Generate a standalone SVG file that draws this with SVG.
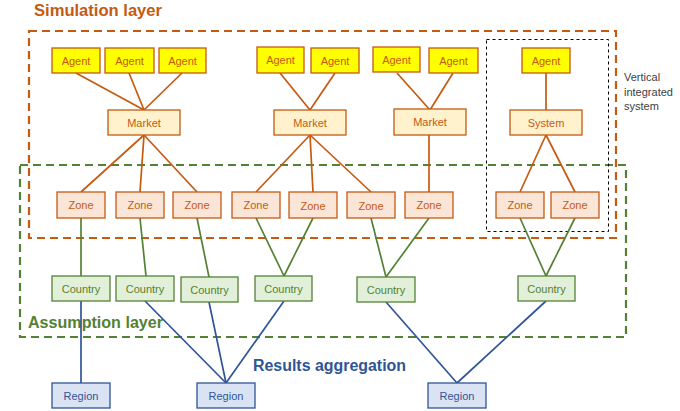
<svg xmlns="http://www.w3.org/2000/svg" width="680" height="411" viewBox="0 0 680 411">
<style>
text{font-family:"Liberation Sans",Arial,sans-serif;}
.lbl{font-size:11px;text-anchor:middle;dominant-baseline:central;}
.agent rect{fill:#FFFF00;stroke:#C55A11;stroke-width:1.3;}
.agent text{fill:#C55A11;}
.market rect{fill:#FFF2CC;stroke:#C55A11;stroke-width:1.3;}
.market text{fill:#C55A11;}
.zone rect{fill:#FBE5D6;stroke:#C55A11;stroke-width:1.3;}
.zone text{fill:#C55A11;}
.country rect{fill:#E2F0D9;stroke:#548235;stroke-width:1.3;}
.country text{fill:#548235;}
.region rect{fill:#DAE3F3;stroke:#2F5597;stroke-width:1.3;}
.region text{fill:#2F5597;}
.co{stroke:#C55A11;stroke-width:1.7;fill:none;}
.cg{stroke:#548235;stroke-width:1.7;fill:none;}
.cb{stroke:#2F5597;stroke-width:1.7;fill:none;}
.title{font-size:16px;font-weight:bold;}
</style>
<rect width="680" height="411" fill="#FFFFFF"/>
<g id="layers">
<rect x="29" y="31" width="587" height="207" fill="none" stroke="#C55A11" stroke-width="2.2" stroke-dasharray="8,5"/>
<rect x="20" y="165" width="606" height="172" fill="none" stroke="#548235" stroke-width="2.2" stroke-dasharray="8,5"/>
<rect x="486.5" y="39.5" width="122" height="192" fill="none" stroke="#000000" stroke-width="1" stroke-dasharray="3,3"/>
<text x="34" y="16" class="title" fill="#C55A11" textLength="128" lengthAdjust="spacingAndGlyphs">Simulation layer</text>
<text x="28" y="328" class="title" fill="#548235" textLength="135" lengthAdjust="spacingAndGlyphs">Assumption layer</text>
<text x="253" y="371" class="title" fill="#2F5597" textLength="153" lengthAdjust="spacingAndGlyphs">Results aggregation</text>
<text x="624" y="81" font-size="11" fill="#404040">Vertical</text>
<text x="624" y="96" font-size="11" fill="#404040">integrated</text>
<text x="624" y="110" font-size="11" fill="#404040">system</text>
</g>
<g id="connectors">
<line class="co" x1="76" y1="73" x2="144" y2="110"/>
<line class="co" x1="129" y1="73" x2="144" y2="110"/>
<line class="co" x1="182" y1="73" x2="144" y2="110"/>
<line class="co" x1="280" y1="73" x2="310" y2="110"/>
<line class="co" x1="335" y1="73" x2="310" y2="110"/>
<line class="co" x1="397" y1="73" x2="430" y2="110"/>
<line class="co" x1="453" y1="73" x2="430" y2="110"/>
<line class="co" x1="546" y1="73" x2="546" y2="110"/>
<line class="co" x1="144" y1="135" x2="81" y2="192"/>
<line class="co" x1="144" y1="135" x2="140" y2="192"/>
<line class="co" x1="144" y1="135" x2="197" y2="192"/>
<line class="co" x1="310" y1="135" x2="256" y2="192"/>
<line class="co" x1="310" y1="135" x2="313" y2="192"/>
<line class="co" x1="310" y1="135" x2="371" y2="192"/>
<line class="co" x1="429" y1="135" x2="429" y2="192"/>
<line class="co" x1="546" y1="135" x2="520" y2="192"/>
<line class="co" x1="546" y1="135" x2="575" y2="192"/>
<line class="cg" x1="81" y1="218" x2="81" y2="276"/>
<line class="cg" x1="140" y1="218" x2="146" y2="276"/>
<line class="cg" x1="197" y1="218" x2="209" y2="277"/>
<line class="cg" x1="256" y1="218" x2="284" y2="276"/>
<line class="cg" x1="313" y1="218" x2="284" y2="276"/>
<line class="cg" x1="371" y1="218" x2="386" y2="277"/>
<line class="cg" x1="429" y1="218" x2="386" y2="277"/>
<line class="cg" x1="520" y1="218" x2="546" y2="276"/>
<line class="cg" x1="575" y1="218" x2="546" y2="276"/>
<line class="cb" x1="81" y1="301" x2="81" y2="383"/>
<line class="cb" x1="145" y1="301" x2="226" y2="383"/>
<line class="cb" x1="209" y1="302" x2="226" y2="383"/>
<line class="cb" x1="284" y1="301" x2="226" y2="383"/>
<line class="cb" x1="386" y1="302" x2="457" y2="383"/>
<line class="cb" x1="546" y1="301" x2="457" y2="383"/>
</g>
<g id="agent1" class="agent"><rect x="52" y="48" width="48" height="25"/><text class="lbl" x="76" y="61">Agent</text></g>
<g id="agent2" class="agent"><rect x="105" y="48" width="49" height="25"/><text class="lbl" x="129.5" y="61">Agent</text></g>
<g id="agent3" class="agent"><rect x="159" y="48" width="47" height="25"/><text class="lbl" x="182.5" y="61">Agent</text></g>
<g id="agent4" class="agent"><rect x="257" y="47" width="47" height="26"/><text class="lbl" x="280.5" y="60">Agent</text></g>
<g id="agent5" class="agent"><rect x="311" y="48" width="48" height="25"/><text class="lbl" x="335" y="61">Agent</text></g>
<g id="agent6" class="agent"><rect x="373" y="47" width="47" height="25"/><text class="lbl" x="396.5" y="60">Agent</text></g>
<g id="agent7" class="agent"><rect x="429" y="48" width="49" height="25"/><text class="lbl" x="453.5" y="61">Agent</text></g>
<g id="agent8" class="agent"><rect x="522" y="48" width="48" height="25"/><text class="lbl" x="546" y="61">Agent</text></g>
<g id="market1" class="market"><rect x="108" y="110" width="72" height="25"/><text class="lbl" x="144" y="123">Market</text></g>
<g id="market2" class="market"><rect x="274" y="110" width="72" height="25"/><text class="lbl" x="310" y="123">Market</text></g>
<g id="market3" class="market"><rect x="394" y="109" width="72" height="26"/><text class="lbl" x="430" y="122">Market</text></g>
<g id="system" class="market"><rect x="510" y="110" width="72" height="25"/><text class="lbl" x="546" y="123">System</text></g>
<g id="zone1" class="zone"><rect x="57" y="192" width="48" height="26"/><text class="lbl" x="81" y="205">Zone</text></g>
<g id="zone2" class="zone"><rect x="116" y="192" width="48" height="26"/><text class="lbl" x="140" y="205">Zone</text></g>
<g id="zone3" class="zone"><rect x="173" y="192" width="48" height="26"/><text class="lbl" x="197" y="205">Zone</text></g>
<g id="zone4" class="zone"><rect x="232" y="192" width="48" height="26"/><text class="lbl" x="256" y="205">Zone</text></g>
<g id="zone5" class="zone"><rect x="289" y="192" width="48" height="26"/><text class="lbl" x="313" y="206">Zone</text></g>
<g id="zone6" class="zone"><rect x="347" y="192" width="48" height="26"/><text class="lbl" x="371" y="206">Zone</text></g>
<g id="zone7" class="zone"><rect x="405" y="192" width="48" height="26"/><text class="lbl" x="429" y="205">Zone</text></g>
<g id="zone8" class="zone"><rect x="496" y="192" width="48" height="26"/><text class="lbl" x="520" y="205">Zone</text></g>
<g id="zone9" class="zone"><rect x="551" y="192" width="48" height="26"/><text class="lbl" x="575" y="205">Zone</text></g>
<g id="country1" class="country"><rect x="52" y="276" width="58" height="25"/><text class="lbl" x="81" y="288.5">Country</text></g>
<g id="country2" class="country"><rect x="116" y="276" width="58" height="25"/><text class="lbl" x="145" y="288.5">Country</text></g>
<g id="country3" class="country"><rect x="181" y="277" width="57" height="25"/><text class="lbl" x="209.5" y="289.5">Country</text></g>
<g id="country4" class="country"><rect x="255" y="276" width="57" height="25"/><text class="lbl" x="283.5" y="288.5">Country</text></g>
<g id="country5" class="country"><rect x="357" y="277" width="58" height="25"/><text class="lbl" x="386" y="289.5">Country</text></g>
<g id="country6" class="country"><rect x="518" y="276" width="57" height="25"/><text class="lbl" x="546.5" y="288.5">Country</text></g>
<g id="region1" class="region"><rect x="52" y="383" width="58" height="25"/><text class="lbl" x="81" y="395.5">Region</text></g>
<g id="region2" class="region"><rect x="197" y="383" width="58" height="25"/><text class="lbl" x="226" y="395.5">Region</text></g>
<g id="region3" class="region"><rect x="428" y="383" width="58" height="25"/><text class="lbl" x="457" y="395.5">Region</text></g>
</svg>
